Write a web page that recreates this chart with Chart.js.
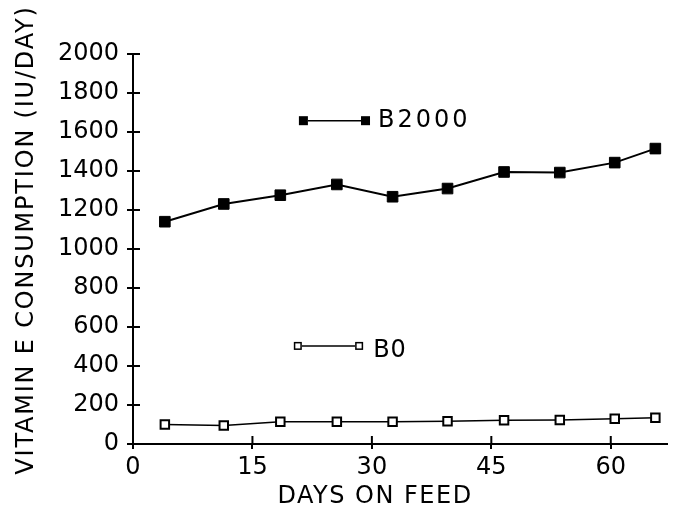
<!DOCTYPE html>
<html>
<head>
<meta charset="utf-8">
<script src="https://cdn.jsdelivr.net/npm/chart.js@4"></script>
<style>
  body { margin: 0; background: #fff; }
  canvas { display: block; }
</style>
</head>
<body>
<canvas id="myChart" width="675" height="512"></canvas>
<script>
const days = [4, 11.4, 18.5, 25.6, 32.6, 39.5, 46.6, 53.6, 60.5, 65.6];
const b2000 = [1140, 1231, 1276, 1331, 1268, 1310, 1395, 1392, 1443, 1515];
const b0 = [100, 95, 114, 114, 114, 117, 122, 123, 130, 135];
const xTickValues = [0, 15, 30, 45, 60];
const seriesNames = ['B2000', 'B0'];
const xTitle = 'DAYS ON FEED';
const yTitle = 'VITAMIN E CONSUMPTION (IU/DAY)';

const FONT = "'DejaVu Sans', sans-serif";
const ctx = document.getElementById('myChart');

// ticks in the original cross the axis line, chart.js only draws the outer half.
// legend sits inside the plot and the titles are letter-spaced, so draw those here too
const extras = {
    id: 'extras',
    afterDraw(chart) {
        const c = chart.ctx;
        const { x, y } = chart.scales;
        const area = chart.chartArea;
        c.save();
        c.strokeStyle = '#000';
        c.lineWidth = 2;
        c.beginPath();
        y.ticks.forEach(t => {
            const py = y.getPixelForValue(t.value);
            c.moveTo(area.left, py);
            c.lineTo(area.left + 7, py);
        });
        x.ticks.forEach(t => {
            const px = x.getPixelForValue(t.value);
            c.moveTo(px, area.bottom);
            c.lineTo(px, area.bottom - 8);
        });
        c.stroke();

        const rows = [
            { label: seriesNames[0], from: 21.4, to: 29.2, at: 1658, filled: true, size: 9, dy: 0, gap: 8, spacing: '3px' },
            { label: seriesNames[1], from: 20.7, to: 28.4, at: 503, filled: false, size: 8, dy: 5, gap: 10, spacing: '1px' }
        ];
        rows.forEach(r => {
            const x0 = x.getPixelForValue(r.from);
            const x1 = x.getPixelForValue(r.to);
            const py = y.getPixelForValue(r.at);
            const h = r.size / 2;
            c.lineWidth = 1.5;
            c.beginPath();
            c.moveTo(x0 + h, py);
            c.lineTo(x1 - h, py);
            c.stroke();
            [x0, x1].forEach(px => {
                if (r.filled) {
                    c.fillStyle = '#000';
                    c.fillRect(px - h, py - h, r.size, r.size);
                } else {
                    c.fillStyle = '#fff';
                    c.fillRect(px - h, py - h, r.size, r.size);
                    c.strokeRect(px - h + 0.75, py - h + 0.75, r.size - 1.5, r.size - 1.5);
                }
            });
            c.fillStyle = '#000';
            c.font = '24px ' + FONT;
            c.letterSpacing = r.spacing;
            c.textBaseline = 'middle';
            c.textAlign = 'left';
            c.fillText(r.label, x1 + h + r.gap, py + r.dy);
        });

        c.fillStyle = '#000';
        c.font = '24px ' + FONT;
        c.textBaseline = 'middle';
        c.textAlign = 'center';
        c.letterSpacing = '1.5px';
        c.fillText(xTitle, x.getPixelForValue(30.4), 497);

        c.letterSpacing = '1.8px';
        c.translate(27, 240);
        c.rotate(-Math.PI / 2);
        c.fillText(yTitle, 0, 0);
        c.restore();
    }
};

new Chart(ctx, {
    type: 'line',
    data: {
        datasets: [
            {
                label: seriesNames[0],
                data: days.map((d, i) => ({ x: d, y: b2000[i] })),
                borderColor: '#000',
                backgroundColor: '#000',
                borderWidth: 2,
                pointStyle: 'rect',
                pointRadius: 7.5,
                pointBorderWidth: 1,
                pointBackgroundColor: '#000'
            },
            {
                label: seriesNames[1],
                data: days.map((d, i) => ({ x: d, y: b0[i] })),
                borderColor: '#000',
                backgroundColor: '#fff',
                borderWidth: 1.5,
                pointStyle: 'rect',
                pointRadius: 6,
                pointBorderWidth: 2,
                pointBackgroundColor: '#fff'
            }
        ]
    },
    options: {
        responsive: false,
        animation: false,
        layout: { padding: { top: 54, left: 0, right: 0, bottom: 0 } },
        plugins: {
            legend: { display: false },
            tooltip: { enabled: false }
        },
        scales: {
            x: {
                type: 'linear',
                min: 0,
                max: 67,
                afterBuildTicks: s => { s.ticks = xTickValues.map(v => ({ value: v })); },
                afterFit: s => { s.height = 68; },
                ticks: {
                    color: '#000',
                    font: { family: FONT, size: 24 },
                    padding: 4,
                    maxRotation: 0
                },
                grid: { drawOnChartArea: false, tickLength: 5, color: '#000', lineWidth: 2 },
                border: { color: '#000', width: 2 }
            },
            y: {
                min: 0,
                max: 2000,
                afterFit: s => { s.width = 133; },
                ticks: {
                    stepSize: 200,
                    color: '#000',
                    font: { family: FONT, size: 24 },
                    padding: 8,
                    callback: v => String(v)
                },
                grid: { drawOnChartArea: false, tickLength: 6, color: '#000', lineWidth: 2 },
                border: { color: '#000', width: 2 }
            }
        }
    },
    plugins: [extras]
});
</script>
</body>
</html>
